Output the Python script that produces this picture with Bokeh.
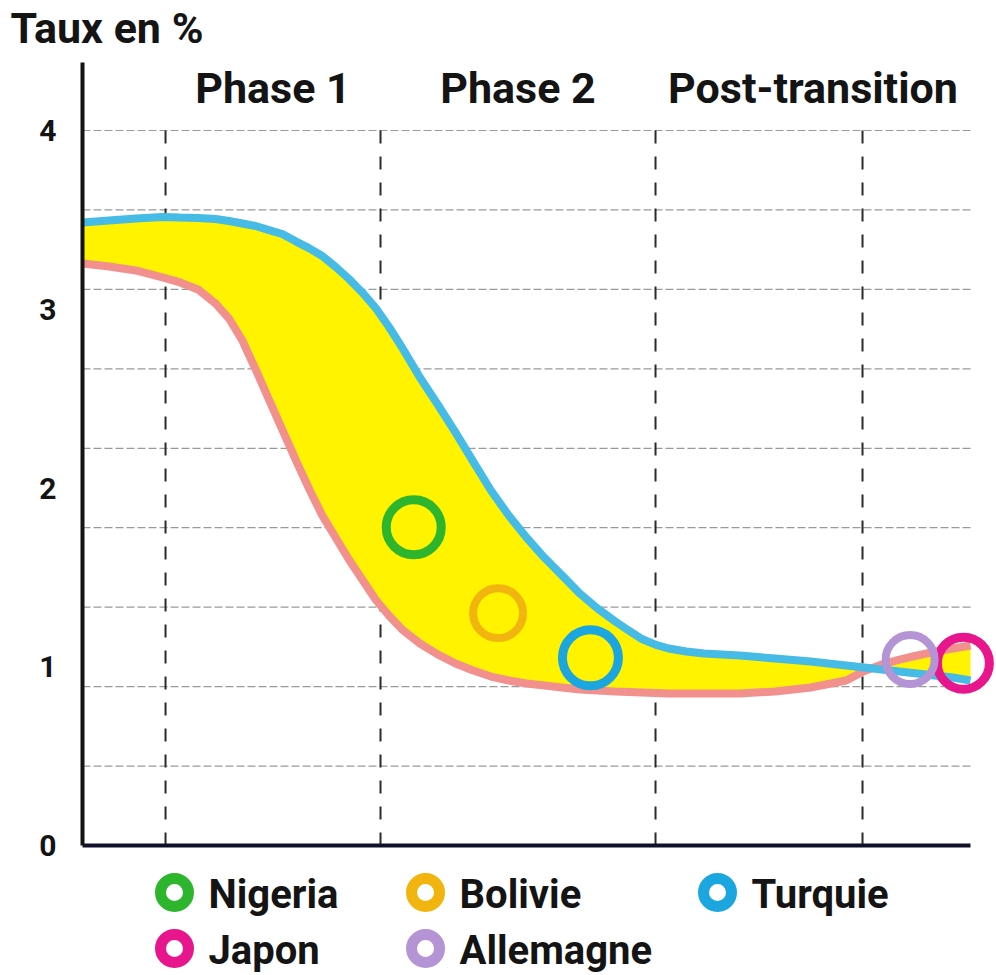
from bokeh.plotting import figure
from bokeh.models import Range1d, FixedTicker
from bokeh.embed import file_html
from bokeh.resources import INLINE
from bokeh.core.properties import value

# ---------------- data ----------------
x_pos = [0, 3, 6, 9, 11, 13, 15, 16.5, 18, 19.5, 21, 22.5, 24, 25.5, 27, 28.5, 30, 31.5,
         33, 34.5, 36, 38, 40, 42, 44, 46, 48, 50, 52, 54, 56, 58, 60, 61.5, 63, 64.5,
         66, 68, 70, 74, 78, 82, 86, 88, 90, 92, 94, 96, 98, 100]
upper_rate = [3.485, 3.497, 3.508, 3.516, 3.513, 3.511, 3.505, 3.494, 3.480, 3.466,
              3.443, 3.421, 3.380, 3.342, 3.298, 3.237, 3.170, 3.094, 3.008, 2.902,
              2.785, 2.618, 2.467, 2.311, 2.148, 1.986, 1.846, 1.723, 1.611, 1.511,
              1.410, 1.326, 1.253, 1.203, 1.155, 1.124, 1.102, 1.085, 1.074, 1.063,
              1.046, 1.029, 1.007, 0.996, 0.985, 0.973, 0.962, 0.951, 0.940, 0.923]
lower_rate = [3.256, 3.239, 3.217, 3.178, 3.150, 3.111, 3.032, 2.948, 2.825, 2.663,
              2.495, 2.327, 2.159, 1.997, 1.846, 1.723, 1.600, 1.488, 1.376, 1.287,
              1.208, 1.130, 1.069, 1.018, 0.979, 0.945, 0.923, 0.906, 0.895, 0.884,
              0.873, 0.867, 0.862, 0.859, 0.856, 0.853, 0.850, 0.850, 0.850, 0.850,
              0.862, 0.884, 0.923, 0.975, 1.012, 1.040, 1.063, 1.085, 1.102, 1.119]

phase_bounds = [9.35, 33.56, 64.53, 87.84]
phase_names = ["Phase 1", "Phase 2", "Post-transition"]

countries = ["Nigeria", "Bolivie", "Turquie", "Japon", "Allemagne"]
country_x = [37.3, 46.8, 57.2, 99.2, 93.2]
country_rate = [1.78, 1.30, 1.05, 1.02, 1.04]

y_tick_values = [0, 1, 2, 3, 4]
grid_values = [k * 4 / 9 for k in range(1, 10)]
x_end = 100
title_text = "Taux en %"

# ---------------- styles / layout ----------------
country_colors = ["#2DB52D", "#F2B50F", "#1BA6DF", "#E8168C", "#B594D6"]
country_sizes = [55, 50, 56, 52, 49]
country_widths = [9, 8, 9, 9, 8]
FONT_NAME = "Roboto"
FONT = value(FONT_NAME)
INK = "#141414"

W, H = 994, 973
ORIGIN_PX = (82, 845)          # where (0, 0) sits on the canvas
PX_PER_X = 8.88
PX_PER_Y = 178.75
X_MIN = -ORIGIN_PX[0] / PX_PER_X
X_MAX = (W - ORIGIN_PX[0]) / PX_PER_X
Y_MAX = ORIGIN_PX[1] / PX_PER_Y
Y_MIN = -(H - ORIGIN_PX[1]) / PX_PER_Y
AXIS_TOP = 4.38

p = figure(width=W, height=H, x_range=Range1d(X_MIN, X_MAX), y_range=Range1d(Y_MIN, Y_MAX),
           toolbar_location=None, output_backend="svg", min_border=0)
p.outline_line_color = None
p.background_fill_color = "white"
p.xgrid.visible = False
p.ygrid.visible = False

# y axis, pinned at x = 0
p.yaxis.fixed_location = 0
p.yaxis.ticker = FixedTicker(ticks=y_tick_values)
p.yaxis.bounds = (0, AXIS_TOP)
p.yaxis.axis_line_width = 4
p.yaxis.axis_line_color = INK
p.yaxis.major_tick_line_color = None
p.yaxis.minor_tick_line_color = None
p.yaxis.major_label_text_font = FONT_NAME
p.yaxis.major_label_text_font_style = "bold"
p.yaxis.major_label_text_font_size = "30px"
p.yaxis.major_label_text_color = INK
p.yaxis.major_label_standoff = 20

# x axis, pinned at y = 0
p.xaxis.fixed_location = 0
p.xaxis.ticker = FixedTicker(ticks=[])
p.xaxis.bounds = (0, x_end)
p.xaxis.axis_line_width = 4
p.xaxis.axis_line_color = "#10102a"
p.xaxis.major_tick_out = 0
p.xaxis.major_tick_in = 0
p.xaxis.minor_tick_line_color = None

# horizontal dashed grid lines
p.segment(x0=[0] * len(grid_values), y0=grid_values, x1=[x_end] * len(grid_values),
          y1=grid_values, line_color="#9a9a9a", line_width=1.2, line_dash="8 3")
# vertical dashed phase separators
p.segment(x0=phase_bounds, y0=[0] * len(phase_bounds), x1=phase_bounds,
          y1=[max(y_tick_values)] * len(phase_bounds),
          line_color="#2a2a2a", line_width=2, line_dash="13 13")

# band between the two curves
p.varea(x=x_pos, y1=lower_rate, y2=upper_rate, fill_color="#FFF300")
p.line(x_pos, lower_rate, line_color="#F2908E", line_width=8)
p.line(x_pos, upper_rate, line_color="#45BBE6", line_width=8)

# countries
p.scatter(country_x, country_rate, size=country_sizes, fill_color=None,
          line_color=country_colors, line_width=country_widths)

# phase labels
phase_centers = [(phase_bounds[0] + phase_bounds[1]) / 2,
                 (phase_bounds[1] + phase_bounds[2]) / 2,
                 (phase_bounds[2] + x_end) / 2]
p.text(x=phase_centers, y=[4.235] * 3, text=phase_names, text_align="center",
       text_baseline="middle", text_font=FONT, text_font_style="bold",
       text_font_size="43px", text_color=INK)

# title
p.text(x=[-8.11], y=[4.571], text=[title_text], text_align="left",
       text_baseline="middle", text_font=FONT, text_font_style="bold",
       text_font_size="43px", text_color=INK)

# legend (below the x axis)
col_x = [10.36, 38.63, 71.51]
row_y = [-0.263, -0.576]
lx = [col_x[i % 3] for i in range(len(countries))]
ly = [row_y[i // 3] for i in range(len(countries))]
p.scatter(lx, ly, size=28, fill_color=None, line_color=country_colors, line_width=11)
p.text(x=[v + 3.83 for v in lx], y=[v - 0.011 for v in ly], text=countries,
       text_font=FONT, text_font_style="bold", text_font_size="40px",
       text_color=INK, text_baseline="middle")

open("out.html", "w").write(file_html(p, INLINE))
